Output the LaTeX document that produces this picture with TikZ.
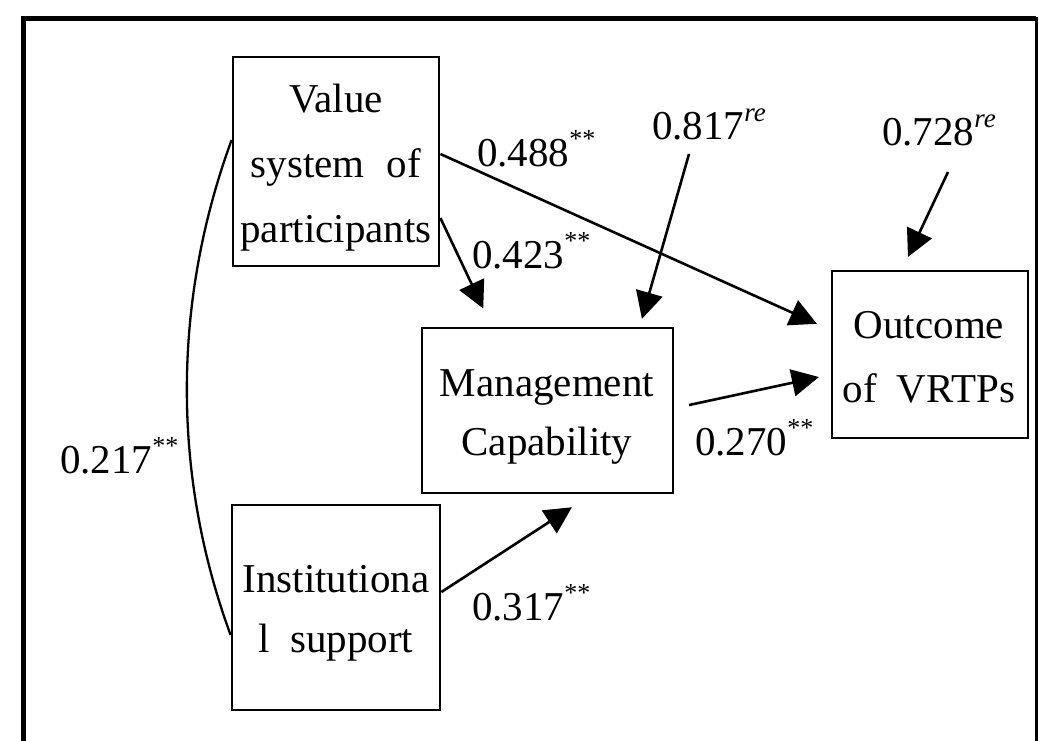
\documentclass[tikz,border=0pt]{standalone}
\usepackage{fontspec}
\setmainfont{Liberation Serif}
\usetikzlibrary{arrows.meta}
% significance stars and residual marks set as raised small text
\newcommand{\sig}{\raisebox{19pt}{\fontsize{26}{26}\selectfont **}}
\newcommand{\resid}{\raisebox{18pt}{\fontsize{27}{27}\selectfont\itshape re}}
\begin{document}
\begin{tikzpicture}[x=1pt,y=-1pt,
  box/.style={draw, line width=2.8pt, inner sep=0pt},
  txt/.style={font=\fontsize{41}{41}\selectfont, inner sep=0pt, anchor=base},
  coef/.style={font=\fontsize{41}{41}\selectfont, inner sep=0pt, anchor=base west},
  link/.style={line width=2.6pt, -{Triangle[length=27pt,width=27pt]}}
]
\useasboundingbox (0,0) rectangle (1039,741);

% outer frame (open at the bottom)
\draw[line width=5pt] (23.5,741) -- (23.5,19) -- (1036,19);
\draw[line width=3pt] (1036,17) -- (1036,741);

% construct boxes
\node[box, minimum width=206pt, minimum height=209pt] (val)  at (336,161.5) {};
\node[box, minimum width=251pt, minimum height=165pt] (mgmt) at (547.5,410.5) {};
\node[box, minimum width=208pt, minimum height=205pt] (inst) at (336,607.5) {};
\node[box, minimum width=196pt, minimum height=167pt] (out)  at (930,354.5) {};

% box captions, one line per node
\node[txt] (val1) at (336,113) {Value};
\node[txt] (val2) at (336,178) {system\hspace{22pt}of};
\node[txt] (val3) at (336,242) {participants};
\node[txt] (mg1)  at (547,396) {Management};
\node[txt] (mg2)  at (547,455) {Capability};
\node[txt] (in1)  at (336,592) {Institutiona};
\node[txt] (in2)  at (336,652) {l\hspace{20pt}support};
\node[txt] (ou1)  at (929,338) {Outcome};
\node[txt] (ou2)  at (929,402) {of\hspace{20pt}VRTPs};

% path coefficients
\node[coef] (c488) at (477,167) {0.488\sig};
\node[coef] (c817) at (652,140) {0.817\resid};
\node[coef] (c728) at (882,146) {0.728\resid};
\node[coef] (c423) at (472,268) {0.423\sig};
\node[coef] (c270) at (695,455) {0.270\sig};
\node[coef] (c317) at (472,620) {0.317\sig};
\node[coef] (c217) at (60,473)  {0.217\sig};

% free ends of the residual arrows
\coordinate (r817) at (689,154);
\coordinate (r728) at (948,172);

% structural paths
\draw[link, shorten >=15pt] ([yshift=7.5pt]val.east) -- ([yshift=24.5pt]out.west);
\draw[link, shorten >=20pt] ([yshift=-56.5pt]val.east) -- ([xshift=-55.7pt]mgmt.north);
\draw[link, shorten >=8pt] (r817) -- ([xshift=92.2pt]mgmt.north);
\draw[link, shorten >=14pt] (r728) -- ([xshift=-28pt]out.north);
\draw[link, shorten <=15pt, shorten >=12pt] ([yshift=2.3pt]mgmt.east) -- ([yshift=-20pt]out.west);
\draw[link, shorten >=23.6pt] ([yshift=15.5pt]inst.east) -- ([xshift=44.2pt]mgmt.south);

% correlation between the two exogenous constructs
\draw[line width=2.3pt] ([yshift=21.5pt]val.west) .. controls +(-59,161) and +(-59,-161) .. ([yshift=-27.5pt]inst.west);
\end{tikzpicture}
\end{document}
